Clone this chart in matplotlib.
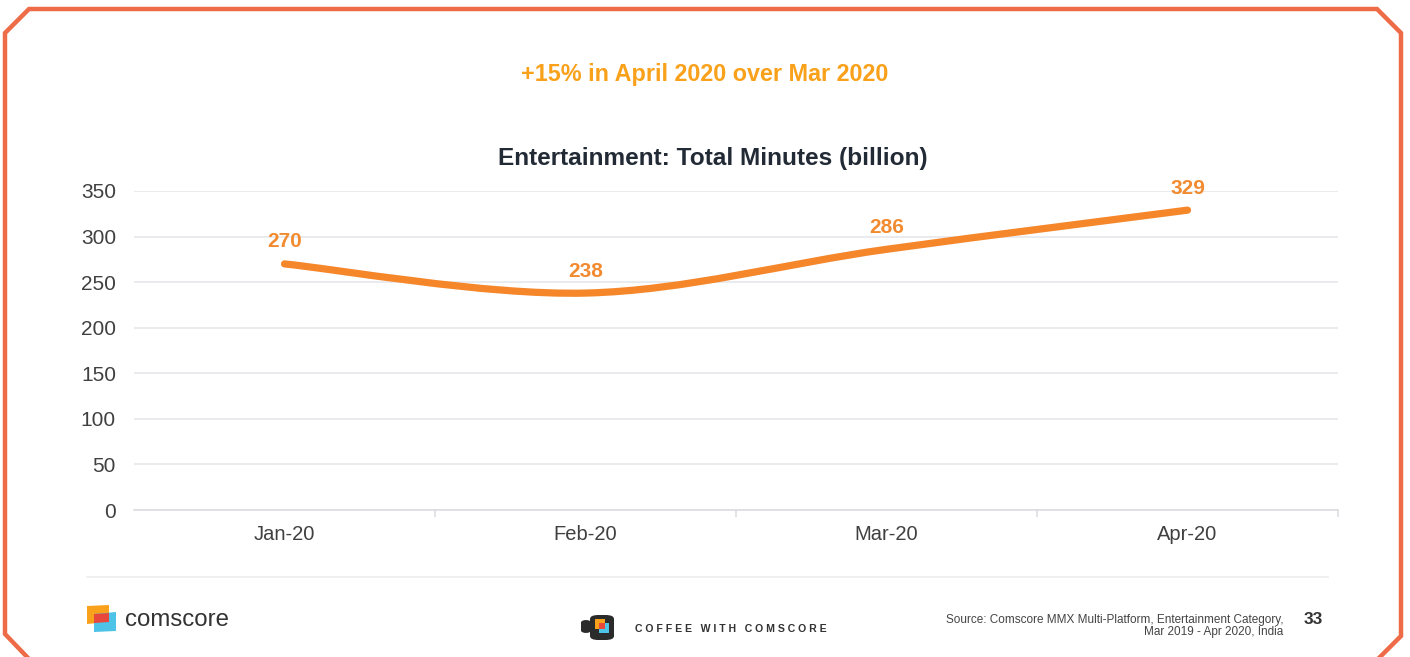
import numpy as np
import matplotlib.pyplot as plt
from matplotlib.path import Path
from matplotlib.patches import PathPatch, Polygon, Rectangle, FancyBboxPatch

plt.rcParams['font.family'] = ['Liberation Sans', 'DejaVu Sans']

months = ['Jan-20', 'Feb-20', 'Mar-20', 'Apr-20']
minutes = [270, 238, 286, 329]
yticks = [0, 50, 100, 150, 200, 250, 300, 350]

W, H = 1410, 657
LINE = '#F5862A'
GRID = '#E4E6EA'


def fx(x):
    return x / W


def fy(y):
    return 1 - y / H


fig = plt.figure(figsize=(W / 100, H / 100), dpi=100)
ax = fig.add_axes([fx(134), fy(510), fx(1338) - fx(134), fy(191) - fy(510)])

# smoothed line (catmull-rom through the points, as bezier segments)
xs = np.arange(len(months), dtype=float)
pts = np.column_stack([xs, minutes])
ext = np.vstack([pts[0], pts, pts[-1]])
verts = [tuple(pts[0])]
codes = [Path.MOVETO]
for i in range(len(pts) - 1):
    p0, p1, p2, p3 = ext[i], ext[i + 1], ext[i + 2], ext[i + 3]
    c1 = p1 + (p2 - p0) / 6
    c2 = p2 - (p3 - p1) / 6
    verts += [tuple(c1), tuple(c2), tuple(p2)]
    codes += [Path.CURVE4] * 3
ax.add_patch(PathPatch(Path(verts, codes), fill=False, edgecolor=LINE,
                       lw=5.2, capstyle='round', joinstyle='round'))

for x, v in zip(xs, minutes):
    ax.annotate(str(v), (x, v), xytext=(0, 22), textcoords='offset pixels',
                ha='center', va='center', fontsize=15, fontweight='bold',
                color='#F28B30')

ax.set_xlim(-0.5, len(months) - 0.5)
ax.set_ylim(0, 350)
ax.set_yticks(yticks)
ax.set_xticks(xs)
ax.set_xticklabels(months)
ax.set_xticks(np.arange(0.5, len(months) - 0.4, 1.0), minor=True)
ax.grid(axis='y', color=GRID, lw=1.1)
ax.set_axisbelow(True)
for s in ['top', 'right', 'left']:
    ax.spines[s].set_visible(False)
ax.spines['bottom'].set_color('#D9DBDF')
ax.spines['bottom'].set_linewidth(1.1)
ax.tick_params(axis='y', length=0, labelsize=15, labelcolor='#404040', pad=13)
ax.tick_params(axis='x', which='major', length=0, labelsize=14.5,
               labelcolor='#404040', pad=11)
ax.tick_params(axis='x', which='minor', length=5, color='#D9DBDF', width=1.1)

fig.text(fx(713), fy(158), 'Entertainment: Total Minutes (billion)',
         ha='center', va='center', fontsize=17.6, fontweight='bold',
         color='#222A35')

fig.text(fx(705), fy(74), '+15% in April 2020 over Mar 2020', ha='center',
         va='center', fontsize=16.8, fontweight='bold', color='#F9A11B')

# footer separator
fig.add_artist(plt.Line2D([fx(87), fx(1328)], [fy(577), fy(577)],
                          color='#ECECEC', lw=1.2))

# comscore logo
fig.add_artist(Polygon([(fx(87), fy(606)), (fx(109), fy(605)),
                        (fx(109), fy(622)), (fx(87), fy(624))],
                       transform=fig.transFigure, color='#F9A11B', lw=0))
fig.add_artist(Polygon([(fx(94), fy(614)), (fx(116), fy(612)),
                        (fx(116), fy(631)), (fx(94), fy(632))],
                       transform=fig.transFigure, color='#4DC3E8', lw=0))
fig.add_artist(Polygon([(fx(94), fy(614)), (fx(109), fy(613)),
                        (fx(109), fy(622)), (fx(94), fy(623))],
                       transform=fig.transFigure, color='#E8473B', lw=0))
fig.text(fx(125), fy(620), 'comscore', ha='left', va='center',
         fontsize=17.3, color='#333333')

# coffee with comscore mug
fig.add_artist(FancyBboxPatch((fx(590), fy(640)), fx(24), fy(615) - fy(640),
                              boxstyle='round,pad=0,rounding_size=0.006',
                              transform=fig.transFigure, color='#2B2B2B', lw=0))
fig.add_artist(FancyBboxPatch((fx(581), fy(633)), fx(10), fy(620) - fy(633),
                              boxstyle='round,pad=0,rounding_size=0.004',
                              transform=fig.transFigure, color='#2B2B2B', lw=0))
fig.add_artist(Rectangle((fx(595), fy(629)), fx(10), fy(619) - fy(629),
                         transform=fig.transFigure, color='#F9A11B', lw=0))
fig.add_artist(Rectangle((fx(599), fy(633)), fx(10), fy(623) - fy(633),
                         transform=fig.transFigure, color='#4DC3E8', lw=0))
fig.add_artist(Rectangle((fx(599), fy(629)), fx(6), fy(623) - fy(629),
                         transform=fig.transFigure, color='#E8473B', lw=0))
fig.text(fx(635), fy(629), 'C O F F E E   W I T H   C O M S C O R E',
         ha='left', va='center', fontsize=7.6, fontweight='bold',
         color='#333333')

fig.text(fx(1283), fy(626), 'Source: Comscore MMX Multi-Platform, Entertainment Category,\nMar 2019 - Apr 2020, India',
         ha='right', va='center', fontsize=8.5, color='#444444',
         linespacing=1.0)
fig.text(fx(1313), fy(620), '33', ha='center', va='center', fontsize=12.5,
         fontweight='bold', color='#333333')

# chamfered frame
frame = [(1378, 659), (1401, 636), (1401, 33), (1377, 9), (29, 9),
         (5, 33), (5, 634), (29, 659)]
fig.add_artist(plt.Line2D([fx(p[0]) for p in frame], [fy(p[1]) for p in frame],
                          color='#EE6B47', lw=3.2, solid_joinstyle='miter'))

fig.savefig('out.png', dpi=100)
